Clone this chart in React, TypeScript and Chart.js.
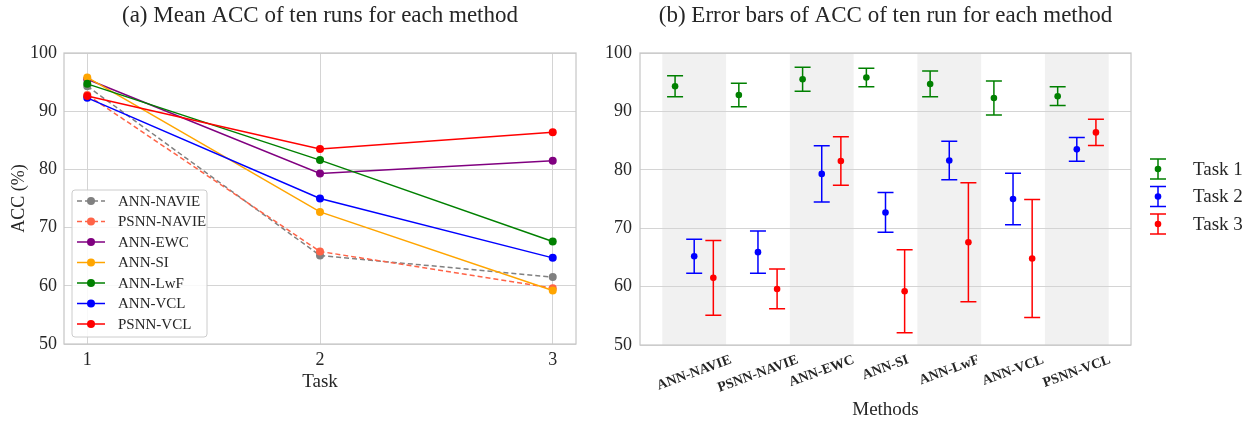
import React, { useEffect, useRef } from "react";
import { Chart, registerables } from "chart.js";

Chart.register(...registerables);

const FONT = "'Liberation Serif', 'Times New Roman', serif";
const TEXT = "#262626";
const GRID = "#d4d4d4";
const FRAME = "#c8c8c8";

// ---------- (a) mean ACC per task ----------
const tasks = [1, 2, 3];
const methods = ["ANN-NAVIE", "PSNN-NAVIE", "ANN-EWC", "ANN-SI", "ANN-LwF", "ANN-VCL", "PSNN-VCL"];
const annNavie = [94.3, 65.2, 61.5];
const psnnNavie = [92.8, 65.9, 59.6];
const annEwc = [95.5, 79.3, 81.5];
const annSi = [95.8, 72.7, 59.2];
const annLwf = [94.7, 81.6, 67.6];
const annVcl = [92.3, 75.0, 64.8];
const psnnVcl = [92.6, 83.5, 86.4];
const methodColors = ["#808080", "#FF6347", "#800080", "#FFA500", "#008000", "#0000FF", "#FF0000"];
const methodDashed = [true, true, false, false, false, false, false];
const yTicks = [50, 60, 70, 80, 90, 100];

// ---------- (b) error bars per method ----------
const taskLabels = ["Task 1", "Task 2", "Task 3"];
const task1Mean = [94.3, 92.8, 95.5, 95.8, 94.7, 92.3, 92.6];
const task1Err = [1.8, 2.0, 2.05, 1.6, 2.2, 2.9, 1.6];
const task2Mean = [65.2, 65.9, 79.3, 72.7, 81.6, 75.0, 83.5];
const task2Err = [2.9, 3.6, 4.8, 3.4, 3.3, 4.4, 2.05];
const task3Mean = [61.5, 59.6, 81.5, 59.2, 67.6, 64.8, 86.4];
const task3Err = [6.4, 3.4, 4.15, 7.1, 10.2, 10.1, 2.25];
const taskColors = ["#008000", "#0000FF", "#FF0000"];
const taskOffsets = [-0.3, 0, 0.3];

const font = (size: number, weight: any = "normal") => ({ family: FONT, size, weight, lineHeight: 1.2 });

const framePlugin = {
  id: "frame",
  beforeDatasetsDraw(chart: any) {
    const { ctx, chartArea: a } = chart;
    ctx.save();
    ctx.strokeStyle = FRAME;
    ctx.lineWidth = 1.25;
    ctx.strokeRect(a.left, a.top, a.right - a.left, a.bottom - a.top);
    ctx.restore();
  },
};

const leftLegendPlugin = {
  id: "leftLegend",
  afterDatasetsDraw(chart: any) {
    const { ctx, chartArea: a } = chart;
    const ds = chart.data.datasets;
    const rowH = 20.5;
    const bx = a.left + 8;
    const bh = 11 + (ds.length - 1) * rowH + 13;
    const by = a.bottom - 7 - bh;
    const bw = 135;
    ctx.save();
    ctx.beginPath();
    ctx.roundRect(bx, by, bw, bh, 3);
    ctx.fillStyle = "rgba(255,255,255,0.85)";
    ctx.fill();
    ctx.strokeStyle = "#cccccc";
    ctx.lineWidth = 1;
    ctx.stroke();
    ds.forEach((d: any, i: number) => {
      const y = by + 11 + i * rowH;
      ctx.strokeStyle = d.borderColor;
      ctx.lineWidth = 1.5;
      ctx.setLineDash(d.borderDash || []);
      ctx.beginPath();
      ctx.moveTo(bx + 5, y);
      ctx.lineTo(bx + 33, y);
      ctx.stroke();
      ctx.setLineDash([]);
      ctx.fillStyle = d.borderColor;
      ctx.beginPath();
      ctx.arc(bx + 19, y, 4, 0, Math.PI * 2);
      ctx.fill();
      ctx.fillStyle = TEXT;
      ctx.font = `15px ${FONT}`;
      ctx.textAlign = "left";
      ctx.textBaseline = "middle";
      ctx.fillText(d.label, bx + 46, y + 1);
    });
    ctx.restore();
  },
};

const bandPlugin = {
  id: "bands",
  beforeDraw(chart: any) {
    const { ctx, chartArea: a, scales } = chart;
    const xs = scales.x;
    ctx.save();
    ctx.fillStyle = "#f1f1f1";
    methods.forEach((_, i) => {
      if (i % 2 !== 0) return;
      const x0 = xs.getPixelForValue(i - 0.5);
      const x1 = xs.getPixelForValue(i + 0.5);
      ctx.fillRect(x0, a.top, x1 - x0, a.bottom - a.top);
    });
    ctx.restore();
  },
};

const errorBarPlugin = {
  id: "errorBars",
  beforeDatasetsDraw(chart: any) {
    const { ctx, scales } = chart;
    const means = [task1Mean, task2Mean, task3Mean];
    const errs = [task1Err, task2Err, task3Err];
    ctx.save();
    ctx.lineWidth = 1.5;
    means.forEach((m, k) => {
      ctx.strokeStyle = taskColors[k];
      m.forEach((v, i) => {
        const x = scales.x.getPixelForValue(i + taskOffsets[k]);
        const yt = scales.y.getPixelForValue(v + errs[k][i]);
        const yb = scales.y.getPixelForValue(v - errs[k][i]);
        ctx.beginPath();
        ctx.moveTo(x, yt);
        ctx.lineTo(x, yb);
        ctx.moveTo(x - 8, yt);
        ctx.lineTo(x + 8, yt);
        ctx.moveTo(x - 8, yb);
        ctx.lineTo(x + 8, yb);
        ctx.stroke();
      });
    });
    ctx.restore();
  },
};

const methodLabelPlugin = {
  id: "methodLabels",
  afterDraw(chart: any) {
    const { ctx, chartArea: a, scales } = chart;
    const th = (20 * Math.PI) / 180;
    ctx.save();
    ctx.font = `bold 14px ${FONT}`;
    ctx.fillStyle = TEXT;
    ctx.textAlign = "center";
    ctx.textBaseline = "middle";
    methods.forEach((name, i) => {
      const w = ctx.measureText(name).width;
      const h = 16;
      const H = w * Math.sin(th) + h * Math.cos(th);
      const x = scales.x.getPixelForValue(i);
      const y = a.bottom + 7 + H / 2;
      ctx.save();
      ctx.translate(x, y);
      ctx.rotate(-th);
      ctx.fillText(name, 0, 0);
      ctx.restore();
    });
    ctx.restore();
  },
};

const rightLegendPlugin = {
  id: "rightLegend",
  afterDraw(chart: any) {
    const { ctx, chartArea: a } = chart;
    const cx = a.right + 27;
    const tx = a.right + 62;
    ctx.save();
    taskLabels.forEach((lab, k) => {
      const y = a.top + 116 + k * 27.5;
      ctx.strokeStyle = taskColors[k];
      ctx.lineWidth = 1.5;
      ctx.beginPath();
      ctx.moveTo(cx, y - 10);
      ctx.lineTo(cx, y + 10);
      ctx.moveTo(cx - 8, y - 10);
      ctx.lineTo(cx + 8, y - 10);
      ctx.moveTo(cx - 8, y + 10);
      ctx.lineTo(cx + 8, y + 10);
      ctx.stroke();
      ctx.fillStyle = taskColors[k];
      ctx.beginPath();
      ctx.arc(cx, y, 3.3, 0, Math.PI * 2);
      ctx.fill();
      ctx.fillStyle = TEXT;
      ctx.font = `19px ${FONT}`;
      ctx.textAlign = "left";
      ctx.textBaseline = "middle";
      ctx.fillText(lab, tx, y + 1);
    });
    ctx.restore();
  },
};

function LeftChart() {
  const ref = useRef<HTMLCanvasElement>(null);
  useEffect(() => {
    const series = [annNavie, psnnNavie, annEwc, annSi, annLwf, annVcl, psnnVcl];
    const chart = new Chart(ref.current as HTMLCanvasElement, {
      type: "line",
      data: {
        datasets: series.map((vals, i) => ({
          label: methods[i],
          data: tasks.map((t, j) => ({ x: t, y: vals[j] })),
          borderColor: methodColors[i],
          backgroundColor: methodColors[i],
          pointBackgroundColor: methodColors[i],
          pointBorderColor: methodColors[i],
          pointBorderWidth: 0,
          pointRadius: 4,
          borderWidth: 1.5,
          borderDash: methodDashed[i] ? [5, 3] : [],
          tension: 0,
          fill: false,
          order: series.length - i,
        })),
      },
      options: {
        responsive: false,
        animation: false,
        layout: { padding: { left: 0, right: 24, top: 0, bottom: 0 } },
        plugins: {
          legend: { display: false },
          tooltip: { enabled: false },
          title: {
            display: true,
            text: "(a) Mean ACC of ten runs for each method",
            fullSize: false,
            font: font(23),
            color: TEXT,
            padding: { top: 2, bottom: 53 - 2 - 27.6 },
          },
        },
        scales: {
          x: {
            type: "linear",
            min: 0.9,
            max: 3.1,
            afterBuildTicks: (s: any) => {
              s.ticks = tasks.map((v) => ({ value: v }));
            },
            afterFit: (s: any) => {
              s.height = 79;
            },
            grid: { color: GRID, lineWidth: 1, drawTicks: false },
            border: { display: false },
            ticks: { font: font(18), color: TEXT, padding: 5, callback: (v: any) => String(v) },
            title: { display: true, text: "Task", font: font(19), color: TEXT, padding: { top: 0, bottom: 30 } },
          },
          y: {
            min: 50,
            max: 100,
            afterBuildTicks: (s: any) => {
              s.ticks = yTicks.map((v) => ({ value: v }));
            },
            afterFit: (s: any) => {
              s.width = 64;
            },
            grid: { color: GRID, lineWidth: 1, drawTicks: false },
            border: { display: false },
            ticks: { font: font(18), color: TEXT, padding: 7, callback: (v: any) => String(v) },
            title: { display: true, text: "ACC (%)", font: font(18), color: TEXT, padding: { top: 8, bottom: 0 } },
          },
        },
      } as any,
      plugins: [framePlugin, leftLegendPlugin],
    });
    return () => chart.destroy();
  }, []);
  return (
    <canvas
      ref={ref}
      width={600}
      height={423}
      style={{ position: "absolute", left: 0, top: 0, width: 600, height: 423 }}
    />
  );
}

function RightChart() {
  const ref = useRef<HTMLCanvasElement>(null);
  useEffect(() => {
    const means = [task1Mean, task2Mean, task3Mean];
    const chart = new Chart(ref.current as HTMLCanvasElement, {
      type: "scatter",
      data: {
        datasets: means.map((m, k) => ({
          label: taskLabels[k],
          data: m.map((v, i) => ({ x: i + taskOffsets[k], y: v })),
          backgroundColor: taskColors[k],
          borderColor: taskColors[k],
          pointRadius: 3.3,
          pointBorderWidth: 0,
        })),
      },
      options: {
        responsive: false,
        animation: false,
        layout: { padding: { left: 0, right: 120, top: 0, bottom: 0 } },
        plugins: {
          legend: { display: false },
          tooltip: { enabled: false },
          title: {
            display: true,
            text: "(b) Error bars of ACC of ten run for each method",
            fullSize: false,
            font: font(23),
            color: TEXT,
            padding: { top: 2, bottom: 53 - 2 - 27.6 },
          },
        },
        scales: {
          x: {
            type: "linear",
            min: -0.85,
            max: 6.85,
            afterBuildTicks: (s: any) => {
              s.ticks = methods.map((_, i) => ({ value: i }));
            },
            afterFit: (s: any) => {
              s.height = 78;
            },
            grid: { display: false, drawTicks: false },
            border: { display: false },
            ticks: { display: false },
            title: { display: true, text: "Methods", font: font(19), color: TEXT, padding: { top: 0, bottom: 1.6 } },
          },
          y: {
            min: 50,
            max: 100,
            afterBuildTicks: (s: any) => {
              s.ticks = yTicks.map((v) => ({ value: v }));
            },
            afterFit: (s: any) => {
              s.width = 40;
            },
            grid: { color: GRID, lineWidth: 1, drawTicks: false },
            border: { display: false },
            ticks: { font: font(18), color: TEXT, padding: 8, callback: (v: any) => String(v) },
          },
        },
      } as any,
      plugins: [bandPlugin, framePlugin, errorBarPlugin, methodLabelPlugin, rightLegendPlugin],
    });
    return () => chart.destroy();
  }, []);
  return (
    <canvas
      ref={ref}
      width={651}
      height={423}
      style={{ position: "absolute", left: 600, top: 0, width: 651, height: 423 }}
    />
  );
}

export default function App() {
  return (
    <div style={{ position: "absolute", left: 0, top: 0, width: 1251, height: 423, background: "#ffffff" }}>
      <LeftChart />
      <RightChart />
    </div>
  );
}
